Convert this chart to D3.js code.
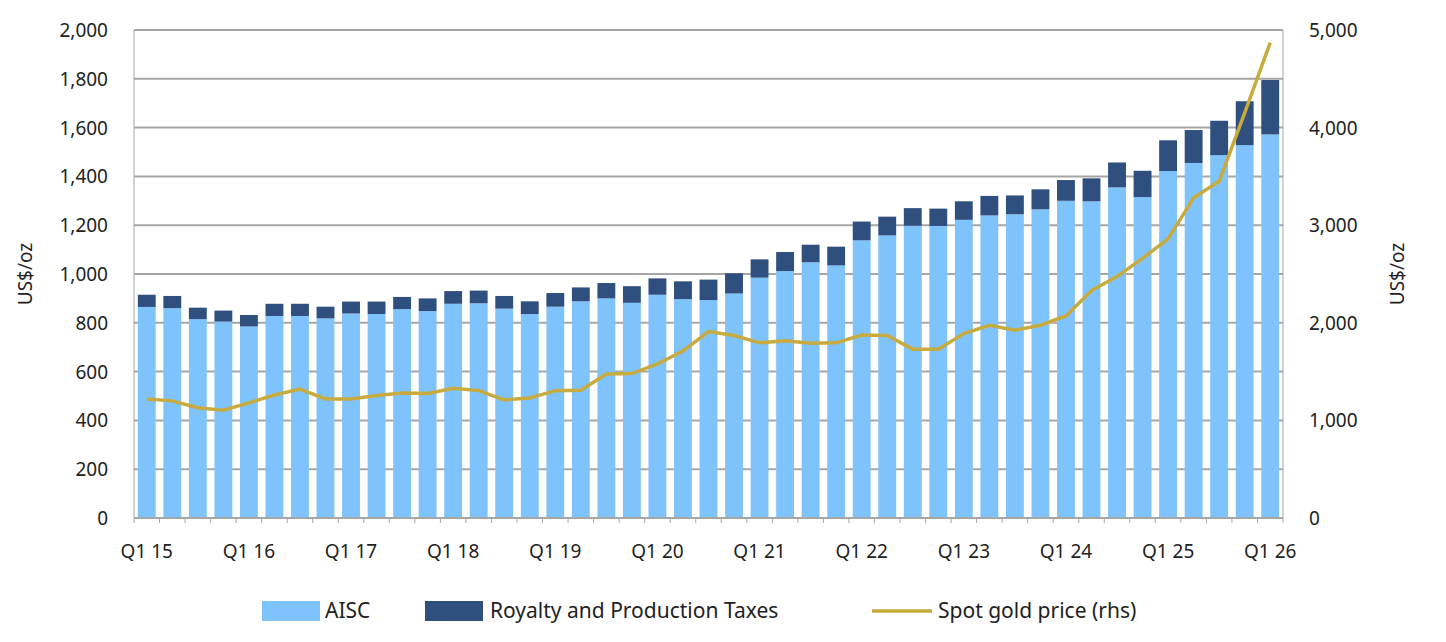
<!DOCTYPE html><html><head><meta charset="utf-8">
<script src="https://cdn.jsdelivr.net/npm/d3@7"></script>
<style>body{margin:0;background:#fff;font-family:"Noto Sans",sans-serif}</style></head><body>
<svg id="c" width="1446" height="642"></svg>
<script>
const quarters=[];for(let y=15;y<=26;y++)for(let q=1;q<=4;q++){if(y===26&&q>1)break;quarters.push("Q"+q+" "+y);}
const aisc=[865,860,815,805,785,828,828,818,838,836,856,848,878,880,858,836,866,888,900,882,915,897,893,920,985,1012,1048,1035,1138,1158,1198,1197,1222,1240,1245,1265,1300,1298,1355,1315,1422,1455,1487,1528,1572];
const total=[915,910,862,850,832,878,878,866,887,887,906,900,930,932,910,888,922,945,963,950,982,970,977,1003,1060,1090,1120,1112,1215,1235,1270,1268,1298,1320,1322,1347,1385,1392,1457,1423,1548,1590,1628,1708,1795];
const gold=[1220,1200,1130,1105,1180,1260,1320,1220,1220,1255,1280,1275,1330,1305,1210,1230,1305,1310,1475,1480,1580,1710,1910,1870,1795,1815,1790,1795,1875,1870,1730,1730,1890,1975,1925,1975,2070,2330,2475,2660,2860,3280,3450,4150,4870];
const leftTicks=[0,200,400,600,800,1000,1200,1400,1600,1800,2000];
const rightTicks=[0,1000,2000,3000,4000,5000];
const svg=d3.select("#c");
const L=134,R=1283,T=30,B=518;
const x=d3.scaleBand().domain(quarters).range([L,R]).paddingInner(0.3).paddingOuter(0.15);
const y=d3.scaleLinear().domain([0,2000]).range([B,T]);
const y2=d3.scaleLinear().domain([0,5000]).range([B,T]);
const fmt=d3.format(",");
svg.append("g").selectAll("line").data(leftTicks.slice(1)).join("line").attr("x1",L).attr("x2",R).attr("y1",d=>y(d)).attr("y2",d=>y(d)).attr("stroke","#a6a6a6").attr("stroke-width",2);
svg.append("g").selectAll("rect").data(quarters).join("rect").attr("x",d=>x(d)).attr("width",x.bandwidth()).attr("y",(d,i)=>y(aisc[i])).attr("height",(d,i)=>B-y(aisc[i])).attr("fill","#7fc3fd");
svg.append("g").selectAll("rect").data(quarters).join("rect").attr("x",d=>x(d)).attr("width",x.bandwidth()).attr("y",(d,i)=>y(total[i])).attr("height",(d,i)=>y(aisc[i])-y(total[i])).attr("fill","#2f4f7f");
const line=d3.line().x((d,i)=>x(quarters[i])+x.bandwidth()/2).y(d=>y2(d));
svg.append("path").datum(gold).attr("d",line).attr("fill","none").attr("stroke","#c8ab3e").attr("stroke-width",3.5);
// axes
const ax=svg.append("g").attr("transform",`translate(0,${B})`);
ax.append("line").attr("x1",L).attr("x2",R).attr("stroke","#a6a6a6").attr("stroke-width",2);
const step=x.step();
const bounds=d3.range(quarters.length+1).map(i=>L+(R-L)*i/quarters.length);
ax.selectAll("line.t").data(bounds).join("line").attr("class","t").attr("x1",d=>d).attr("x2",d=>d).attr("y1",0).attr("y2",5).attr("stroke","#a6a6a6");
ax.selectAll("text").data(quarters.filter((d,i)=>i%4===0)).join("text").attr("x",d=>x(d)+x.bandwidth()/2).attr("y",40).attr("text-anchor","middle").attr("font-size",19).attr("fill","#222").text(d=>d);
svg.append("g").selectAll("text").data(leftTicks).join("text").attr("x",L-26).attr("y",d=>y(d)+7).attr("text-anchor","end").attr("font-size",19).attr("fill","#222").text(fmt);
svg.append("g").selectAll("text").data(rightTicks).join("text").attr("x",R+26).attr("y",d=>y2(d)+7).attr("text-anchor","start").attr("font-size",19).attr("fill","#222").text(fmt);
svg.append("line").attr("x1",L).attr("x2",L).attr("y1",T).attr("y2",B).attr("stroke","#a6a6a6").attr("stroke-width",1);
svg.append("line").attr("x1",R).attr("x2",R).attr("y1",T).attr("y2",B).attr("stroke","#a6a6a6").attr("stroke-width",1);
svg.append("text").attr("transform","translate(32,274) rotate(-90)").attr("text-anchor","middle").attr("font-size",19).attr("fill","#222").text("US$/oz");
svg.append("text").attr("transform","translate(1404,274) rotate(-90)").attr("text-anchor","middle").attr("font-size",19).attr("fill","#222").text("US$/oz");
// legend
const lg=svg.append("g").attr("font-size",21).attr("fill","#222");
lg.append("rect").attr("x",262).attr("y",601).attr("width",58).attr("height",20).attr("fill","#7fc3fd");
lg.append("text").attr("x",325).attr("y",618).text("AISC");
lg.append("rect").attr("x",425).attr("y",601).attr("width",58).attr("height",20).attr("fill","#2f4f7f");
lg.append("text").attr("x",490).attr("y",618).text("Royalty and Production Taxes");
lg.append("line").attr("x1",872).attr("x2",932).attr("y1",611).attr("y2",611).attr("stroke","#c8ab3e").attr("stroke-width",3.5);
lg.append("text").attr("x",938).attr("y",618).text("Spot gold price (rhs)");
</script></body></html>
